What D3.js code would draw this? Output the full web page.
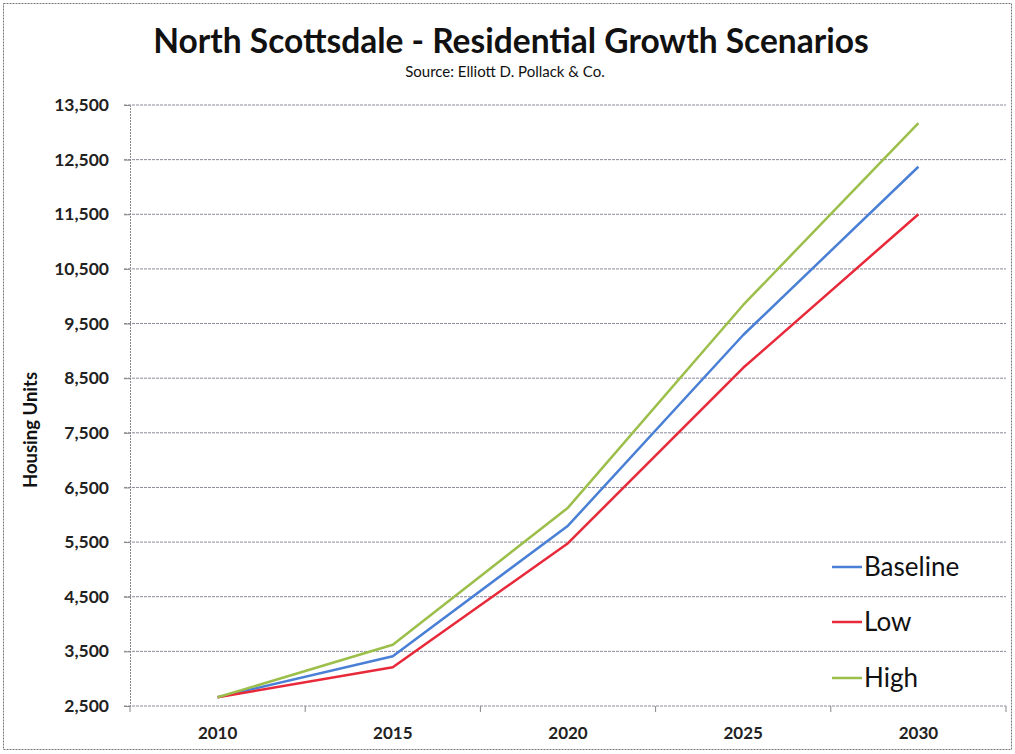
<!DOCTYPE html>
<html><head><meta charset="utf-8">
<script src="https://cdn.jsdelivr.net/npm/d3@7"></script>
<style>
body{margin:0;background:#fff;}
svg{display:block;}
text{font-family:Lato,"Open Sans",sans-serif;fill:#111;}
</style></head>
<body><svg id="c" width="1015" height="754"></svg>
<script>
const years = ["2010","2015","2020","2025","2030"];
const baseline = [2660, 3410, 5800, 9290, 12370];
const low = [2660, 3210, 5480, 8690, 11500];
const high = [2660, 3620, 6130, 9840, 13170];
const yTicks = [2500,3500,4500,5500,6500,7500,8500,9500,10500,11500,12500,13500];
const seriesNames = ["Baseline","Low","High"];
const seriesColors = ["#4a7fd6","#e8293a","#9cbf4b"];
const seriesData = [baseline, low, high];

const svg = d3.select("#c");
const L=130, R=1006, T=105, B=706;

svg.append("rect").attr("x",3.5).attr("y",3.5).attr("width",1008).attr("height",746)
  .attr("fill","none").attr("stroke","#777").attr("stroke-width",1).attr("stroke-dasharray","2,1");

svg.append("text").attr("x",511).attr("y",53).attr("text-anchor","middle")
  .style("font-size","33.5px").style("font-weight","bold").text("North Scottsdale - Residential Growth Scenarios");
svg.append("text").attr("x",505).attr("y",77).attr("text-anchor","middle")
  .style("font-size","15px").text("Source: Elliott D. Pollack & Co.");

const x = d3.scaleBand().domain(years).range([L,R]);
const y = d3.scaleLinear().domain([2500,13500]).range([B,T]);

// gridlines
svg.append("g").selectAll("line").data(yTicks).join("line")
  .attr("x1",L-6).attr("x2",R).attr("y1",d=>y(d)).attr("y2",d=>y(d))
  .attr("stroke","#8a8a9a").attr("stroke-width",1).attr("stroke-dasharray","3,1");

// y axis
const ya = svg.append("g").attr("transform",`translate(${L},0)`)
  .call(d3.axisLeft(y).tickValues(yTicks).tickFormat(d3.format(",")).tickSize(6).tickPadding(15));
ya.select(".domain").attr("stroke","#888").attr("stroke-dasharray","2,1");
ya.selectAll(".tick line").attr("stroke","#888");
ya.selectAll("text").style("font-size","17.5px").style("font-weight","bold").style("fill","#222")
  .style("font-family","Lato,sans-serif");

// x axis
const xa = svg.append("g").attr("transform",`translate(0,${B})`)
  .call(d3.axisBottom(x).tickSize(0).tickPadding(21));
xa.select(".domain").remove();
xa.selectAll("text").style("font-size","17px").style("font-weight","bold").style("fill","#222")
  .style("font-family","Lato,sans-serif");
const bounds = years.map(d=>x(d)+x.bandwidth()).concat([L]);
svg.append("g").selectAll("line").data(bounds).join("line")
  .attr("x1",d=>d).attr("x2",d=>d).attr("y1",B).attr("y2",B+6)
  .attr("stroke","#888").attr("stroke-width",1);

svg.append("text").attr("transform","translate(37,430) rotate(-90)").attr("text-anchor","middle")
  .style("font-size","18.5px").style("font-weight","bold").text("Housing Units");

const line = d3.line().x((d,i)=>x(years[i])+x.bandwidth()/2).y(d=>y(d));
seriesData.forEach((s,k)=>{
  svg.append("path").datum(s).attr("d",line).attr("fill","none")
    .attr("stroke",seriesColors[k]).attr("stroke-width",2.5).attr("stroke-linejoin","round");
});

// legend
const legY = [567,622,678];
seriesNames.forEach((n,k)=>{
  svg.append("line").attr("x1",832).attr("x2",862).attr("y1",legY[k]).attr("y2",legY[k])
    .attr("stroke",seriesColors[k]).attr("stroke-width",2.5);
  svg.append("text").attr("x",864).attr("y",legY[k]+9).style("font-size","26px").text(n);
});
</script></body></html>
